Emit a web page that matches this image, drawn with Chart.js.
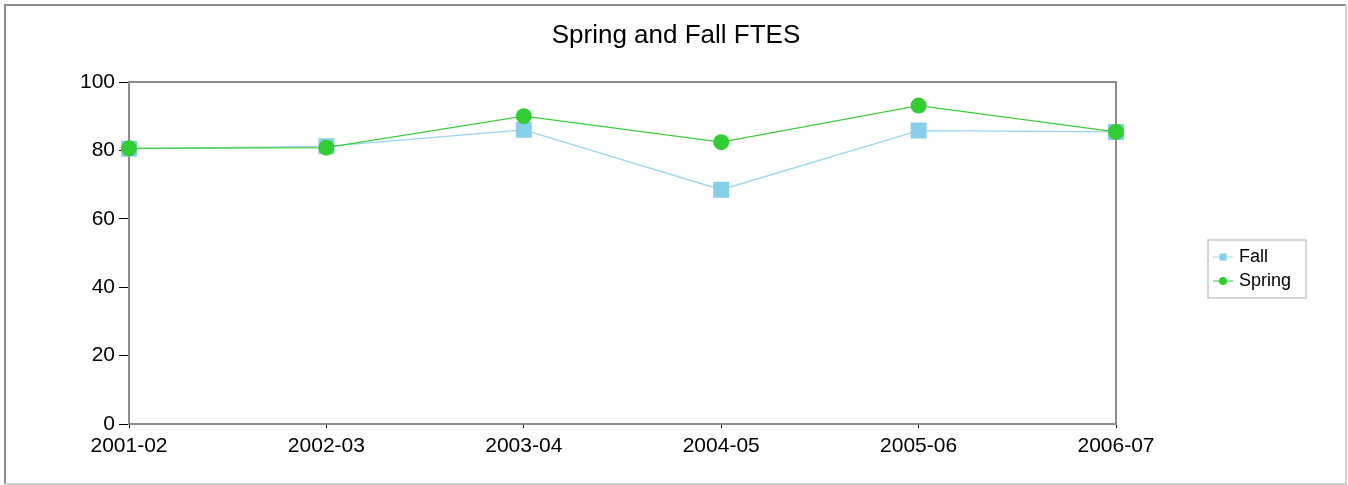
<!DOCTYPE html>
<html>
<head>
<meta charset="utf-8">
<script src="https://cdn.jsdelivr.net/npm/chart.js@4/dist/chart.umd.min.js"></script>
<style>
  html, body { margin: 0; padding: 0; background: #fff; }
  #wrap { width: 1348px; height: 485px; position: relative; }
</style>
</head>
<body>
<div id="wrap"><canvas id="ftesChart" width="1348" height="485"></canvas></div>
<script>
const years = ["2001-02", "2002-03", "2003-04", "2004-05", "2005-06", "2006-07"];
const fall = [80.5, 81.2, 86.0, 68.5, 85.8, 85.4];
const spring = [80.6, 80.8, 90.0, 82.4, 93.1, 85.4];
const yTicks = [0, 20, 40, 60, 80, 100];

const FONT = "'Liberation Sans', Arial, sans-serif";

// frame round the whole picture, title, plot border and legend
const decorations = {
  id: "decorations",
  beforeDraw(chart) {
    const ctx = chart.ctx;
    ctx.save();
    ctx.fillStyle = "#fff";
    ctx.fillRect(0, 0, chart.width, chart.height);
    ctx.lineWidth = 2;
    ctx.strokeStyle = "#8a8a8a";
    ctx.beginPath();
    ctx.moveTo(5, 484);
    ctx.lineTo(5, 5);
    ctx.lineTo(1346, 5);
    ctx.stroke();
    ctx.strokeStyle = "#d0d0d0";
    ctx.beginPath();
    ctx.moveTo(1346, 5);
    ctx.lineTo(1346, 484);
    ctx.lineTo(5, 484);
    ctx.stroke();
    ctx.restore();
  },
  beforeDatasetsDraw(chart) {
    const { ctx, chartArea: a } = chart;
    ctx.save();
    ctx.strokeStyle = "#8c8c8c";
    ctx.lineWidth = 2;
    ctx.strokeRect(a.left, a.top, a.right - a.left, a.bottom - a.top);
    ctx.restore();
  },
  afterDraw(chart) {
    const ctx = chart.ctx;
    ctx.save();
    ctx.fillStyle = "#000";
    ctx.font = "26px " + FONT;
    ctx.textAlign = "center";
    ctx.textBaseline = "middle";
    ctx.fillText("Spring and Fall FTES", 676, 36);

    // legend
    const bx = 1208, by = 240, bw = 98, bh = 58;
    ctx.strokeStyle = "#c8c8c8";
    ctx.lineWidth = 1.5;
    ctx.strokeRect(bx, by, bw, bh);
    ctx.font = "18px " + FONT;
    ctx.textAlign = "left";
    const items = chart.data.datasets.slice().sort((p, q) => p.legendIndex - q.legendIndex);
    items.forEach((ds, i) => {
      const y = by + 17 + i * 24;
      ctx.strokeStyle = ds.borderColor;
      ctx.lineWidth = 1;
      ctx.beginPath();
      ctx.moveTo(bx + 5, y);
      ctx.lineTo(bx + 25, y);
      ctx.stroke();
      ctx.fillStyle = ds.backgroundColor;
      if (ds.pointStyle === "rect") {
        ctx.fillRect(bx + 11.5, y - 3.5, 7, 7);
      } else {
        ctx.beginPath();
        ctx.arc(bx + 15, y, 4, 0, Math.PI * 2);
        ctx.fill();
      }
      ctx.fillStyle = "#000";
      ctx.fillText(ds.label, bx + 31, y);
    });
    ctx.restore();
  },
};

new Chart(document.getElementById("ftesChart"), {
  type: "line",
  data: {
    labels: years,
    datasets: [
      {
        label: "Fall",
        legendIndex: 0,
        order: 1,
        data: fall,
        borderColor: "#9ad6ef",
        backgroundColor: "#87ceeb",
        borderWidth: 1.3,
        pointStyle: "rect",
        pointRadius: 11.3,
        pointHoverRadius: 11.3,
        pointBorderWidth: 0,
        tension: 0,
      },
      {
        label: "Spring",
        legendIndex: 1,
        order: 0,
        data: spring,
        borderColor: "#3dcc3d",
        backgroundColor: "#32cd32",
        borderWidth: 1.3,
        pointStyle: "circle",
        pointRadius: 8,
        pointHoverRadius: 8,
        pointBorderWidth: 0,
        tension: 0,
      },
    ],
  },
  options: {
    responsive: false,
    animation: false,
    layout: { padding: { left: 0, right: 232, top: 82, bottom: 0 } },
    plugins: {
      legend: { display: false },
      title: { display: false },
      tooltip: { enabled: false },
    },
    scales: {
      x: {
        offset: false,
        grid: { drawOnChartArea: false, drawTicks: true, tickLength: 4, color: "#000" },
        border: { display: false },
        ticks: { color: "#000", font: { family: FONT, size: 21 }, padding: 6, maxRotation: 0, autoSkip: false },
        afterFit(scale) { scale.height = 61; },
      },
      y: {
        min: 0,
        max: 100,
        afterBuildTicks(scale) { scale.ticks = yTicks.map((v) => ({ value: v })); },
        grid: { drawOnChartArea: false, drawTicks: true, tickLength: 10, color: "#000" },
        border: { display: false },
        ticks: { color: "#000", font: { family: FONT, size: 21 }, padding: 4 },
        afterFit(scale) { scale.width = 129; },
      },
    },
  },
  plugins: [decorations],
});
</script>
</body>
</html>
